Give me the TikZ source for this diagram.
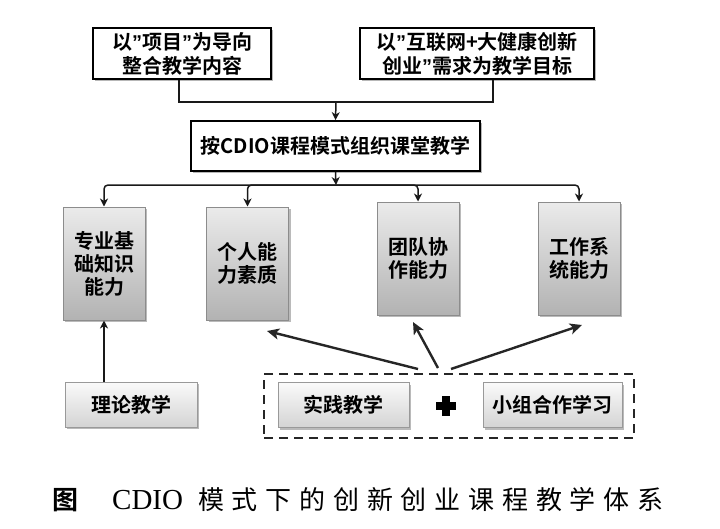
\documentclass[tikz,border=0pt]{standalone}
\usepackage{fontspec}
\setmainfont{Noto Sans CJK SC}[BoldFont={Noto Sans CJK SC Bold}]
\newfontfamily\capfont{Noto Sans CJK SC}[LetterSpace=30]
\newfontfamily\capserif{Liberation Serif}
\newfontfamily\qfont{Liberation Sans}[BoldFont={Liberation Sans Bold}]
\usetikzlibrary{arrows.meta,shadows}
\tikzset{
  boxtext/.style={font=\bfseries\fontsize{20}{24}\selectfont, align=center, inner sep=0pt},
  topbox/.style={boxtext, draw=black, line width=1.8pt, fill=white,
     drop shadow={shadow xshift=2pt, shadow yshift=-2pt, fill=black!40, opacity=0.7}},
  graybox/.style={boxtext, font=\bfseries\fontsize{20}{23}\selectfont, draw=black!45, line width=1pt,
     top color=black!8, bottom color=black!30,
     drop shadow={shadow xshift=2pt, shadow yshift=-2pt, fill=black!45, opacity=0.6},
     minimum width=82pt, minimum height=113pt},
  lightbox/.style={boxtext, draw=black!40, line width=1pt,
     top color=black!2, bottom color=black!17,
     drop shadow={shadow xshift=2pt, shadow yshift=-2pt, fill=black!45, opacity=0.6},
     minimum height=45pt},
  conn/.style={draw=black!90, line width=1.5pt},
  arr/.style={conn, -{Stealth[length=8pt,width=8pt,inset=2.5pt]}},
  bigarr/.style={draw=black!85, line width=2.4pt, -{Stealth[length=12pt,width=11pt,inset=3pt]}},
  dashbox/.style={draw=black!85, line width=2pt, dash pattern=on 9pt off 6pt, inner sep=0pt}
}
\begin{document}
\begin{tikzpicture}[x=1pt,y=-1pt]
\useasboundingbox (0,0) rectangle (720,528);
% top boxes
\node[topbox, minimum width=178pt, minimum height=51pt] (t1) at (182,53.5) {以{\qfont ”}项目{\qfont ”}为导向\\整合教学内容};
\node[topbox, minimum width=234pt, minimum height=51pt] (t2) at (477,53.5) {以{\qfont ”}互联网+大健康创新\\创业{\qfont ”}需求为教学目标};
\node[topbox, minimum width=289pt, minimum height=50pt] (mid) at (335.5,146) {按CDIO课程模式组织课堂教学};
% ability boxes
\node[graybox] (b1) at (104,263.5) {专业基\\础知识\\能力};
\node[graybox] (b2) at (247.5,263.5) {个人能\\力素质};
\node[graybox] (b3) at (418,258.5) {团队协\\作能力};
\node[graybox] (b4) at (579,258.5) {工作系\\统能力};
% bottom
\node[lightbox, minimum width=132pt] (ll) at (131,404.5) {理论教学};
\node[dashbox, minimum width=370pt, minimum height=64pt] (dash) at (449,406) {};
\node[lightbox, minimum width=131pt] (sj) at (343.5,405) {实践教学};
\node[lightbox, minimum width=139pt] (xz) at (552.5,405) {小组合作学习};
\coordinate (plus) at (446,406);
\fill[black] ([shift={(-10,-3.6)}]plus) rectangle ([shift={(10,3.6)}]plus);
\fill[black] ([shift={(-3.6,-10)}]plus) rectangle ([shift={(3.6,10)}]plus);
% connectors top
\coordinate (l1) at (179,0);
\coordinate (l2) at (493,0);
\coordinate (ja) at (336,102);
\coordinate (jb) at (336,185);
\draw[conn] (t1.south -| l1) |- (ja) -| (t2.south -| l2);
\draw[arr] (ja) -- (mid.north);
\draw[arr] (mid.south) -- (jb);
\draw[arr, rounded corners=4pt] (jb) -| (b1.north);
\draw[arr, rounded corners=4pt] (jb) -| (b2.north);
\draw[arr, rounded corners=4pt] (jb) -| (b3.north);
\draw[arr, rounded corners=4pt] (jb) -| (b4.north);
% bottom connectors
\draw[arr] (ll.north -| b1.south) -- (b1.south);
\coordinate (s1) at (418,369);
\coordinate (s2) at (438,368);
\coordinate (s3) at (451,369);
\coordinate (e1) at (267,331);
\coordinate (e2) at (413,322);
\coordinate (e3) at (582,325);
\draw[bigarr] (s1) -- (e1);
\draw[bigarr] (s2) -- (e2);
\draw[bigarr] (s3) -- (e3);
% caption
\node[anchor=west, inner sep=0pt, font=\bfseries\fontsize{26}{30}\selectfont] (cap1) at (52,500) {图};
\node[anchor=west, inner sep=0pt, font=\capserif\fontsize{29}{32}\selectfont] (cap2) at (112,500) {CDIO};
\node[anchor=west, inner sep=0pt, font=\capfont\fontsize{26}{30}\selectfont] (cap3) at (198,500) {模式下的创新创业课程教学体系};
\end{tikzpicture}
\end{document}
